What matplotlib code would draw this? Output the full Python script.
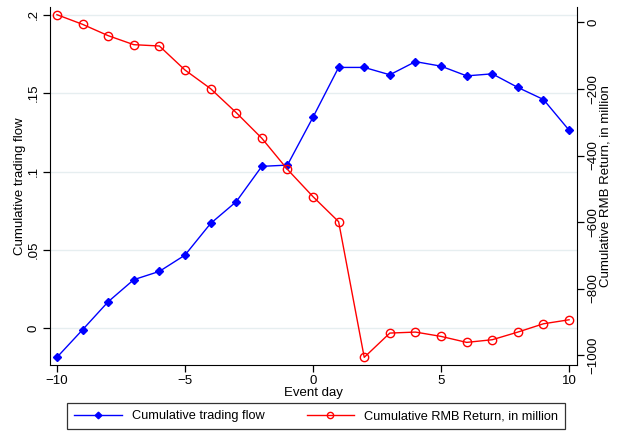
import numpy as np
import matplotlib.pyplot as plt

plt.rcParams['font.family'] = ['Liberation Sans', 'DejaVu Sans']

event_day = np.arange(-10, 11)
trading_flow = [-0.0187, -0.0011, 0.0168, 0.0309, 0.0362, 0.0466, 0.0668, 0.0807,
                0.1033, 0.1041, 0.1347, 0.1665, 0.1665, 0.1618, 0.1702, 0.1673,
                0.1611, 0.1624, 0.1537, 0.1460, 0.1264]
rmb_return = [23.5, -5.5, -39.6, -66.7, -70.7, -142.9, -199, -271, -348, -441.6,
              -523.8, -599, -1007, -934, -931, -944, -962, -954, -931, -906, -894]

left_ticks = [0, 0.05, 0.1, 0.15, 0.2]
left_labels = ["0", ".05", ".1", ".15", ".2"]
right_ticks = [-1000, -800, -600, -400, -200, 0]
x_ticks = [-10, -5, 0, 5, 10]

fig = plt.figure(figsize=(6.19, 4.32), dpi=100)
ax = fig.add_axes([0.0808, 0.1551, 0.8514, 0.8287])
ax2 = ax.twinx()

l1, = ax.plot(event_day, trading_flow, color='blue', lw=1.0, marker='D',
              markersize=4.5, markerfacecolor='blue', markeredgecolor='blue')
l2, = ax2.plot(event_day, rmb_return, color='red', lw=1.0, marker='o',
               markersize=6, markerfacecolor='none', markeredgecolor='red',
               markeredgewidth=1.0)

ax.set_xlim(-10.27, 10.31)
ax.set_ylim(-0.0236, 0.2051)
ax2.set_ylim(-1030, 46.6)

ax.set_xticks(x_ticks)
ax.set_yticks(left_ticks)
ax.set_yticklabels(left_labels, rotation=90, va='center')
ax2.set_yticks(right_ticks)
ax2.set_yticklabels([f"{t}".replace('-', '\u2212') for t in right_ticks],
                    rotation=90, va='center')

ax.grid(axis='y', color='#e6eef0', lw=1.0)
ax.set_axisbelow(True)

for a in (ax, ax2):
    a.spines['top'].set_visible(False)
    a.tick_params(labelsize=9.5, length=5, width=0.9, color='black', pad=2.5)
ax.spines['right'].set_visible(False)
ax2.spines['left'].set_visible(False)
ax2.spines['bottom'].set_visible(False)

ax.set_xlabel("Event day", fontsize=9.5, labelpad=0)
ax.set_ylabel("Cumulative trading flow", fontsize=9.5, labelpad=1)
ax2.set_ylabel("Cumulative RMB Return, in million", fontsize=9.5, labelpad=0)

leg = fig.legend([l1, l2], ["Cumulative trading flow", "Cumulative RMB Return, in million"],
                 loc='center', bbox_to_anchor=(0.511, 0.037), ncol=2,
                 fontsize=9.2, fancybox=False, edgecolor='black',
                 handlelength=3.7, columnspacing=3.3, borderpad=0.55,
                 handletextpad=0.8, borderaxespad=0, markerscale=0.75)
leg.get_frame().set_linewidth(0.9)

fig.savefig("out.png", dpi=100)
